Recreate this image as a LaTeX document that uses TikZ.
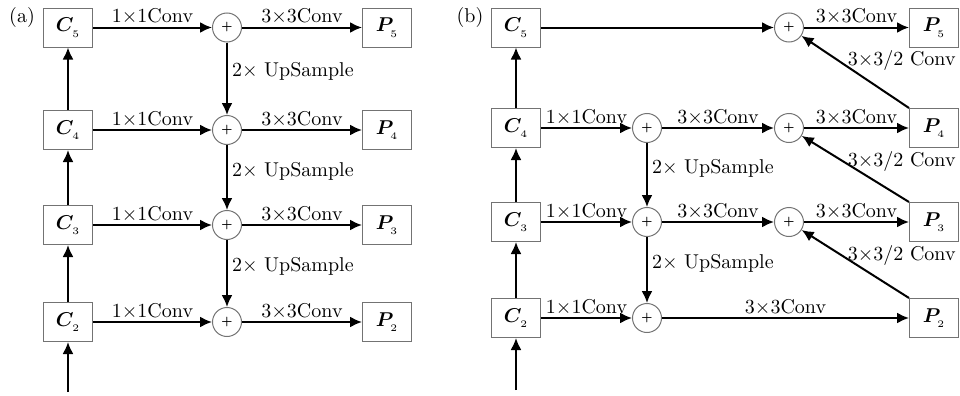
\documentclass[tikz,border=0pt]{standalone}
\usepackage{bm}
\usetikzlibrary{arrows.meta}
\newcommand{\fm}[2]{$\bm{#1}_{\raisebox{-1.2pt}{$\scriptscriptstyle #2$}}$}
\begin{document}
\begin{tikzpicture}[x=0.5pt,y=-0.5pt,
  box/.style={draw=black!55,line width=0.5pt,minimum width=24.5pt,minimum height=19.5pt,inner sep=0pt},
  sumnode/.style={circle,draw=black!55,line width=0.5pt,minimum size=14.5pt,inner sep=0pt,font=\tiny\bfseries},
  arr/.style={line width=1pt,-{Latex[length=6pt,width=5.5pt]}},
  lab/.style={above,inner sep=1pt},
  uplab/.style={right,pos=0.4,inner sep=2pt},
  slab/.style={anchor=north east,inner sep=1.5pt}]
\useasboundingbox (0,0) rectangle (960,396);
% ---------- (a) ----------
\node (la) at (22,17) {(a)};
\node[box] (aC5) at (68,27.5) {\fm{C}{5}};
\node[box] (aC4) at (68,130) {\fm{C}{4}};
\node[box] (aC3) at (68,225) {\fm{C}{3}};
\node[box] (aC2) at (68,322) {\fm{C}{2}};
\node[sumnode] (aS5) at (227,27.5) {+};
\node[sumnode] (aS4) at (227,130) {+};
\node[sumnode] (aS3) at (227,225) {+};
\node[sumnode] (aS2) at (227,322) {+};
\node[box] (aP5) at (387,27.5) {\fm{P}{5}};
\node[box] (aP4) at (387,130) {\fm{P}{4}};
\node[box] (aP3) at (387,225) {\fm{P}{3}};
\node[box] (aP2) at (387,322) {\fm{P}{2}};
\coordinate (ain) at (68,392);
\foreach \i in {5,4,3,2}{
  \draw[arr] (aC\i) -- node[lab]{1$\times$1Conv} (aS\i);
  \draw[arr] (aS\i) -- node[lab]{3$\times$3Conv} (aP\i);
}
\draw[arr] (aS5) -- node[uplab]{2$\times$ UpSample} (aS4);
\draw[arr] (aS4) -- node[uplab]{2$\times$ UpSample} (aS3);
\draw[arr] (aS3) -- node[uplab]{2$\times$ UpSample} (aS2);
\draw[arr] (ain) -- (aC2);
\draw[arr] (aC2) -- (aC3);
\draw[arr] (aC3) -- (aC4);
\draw[arr] (aC4) -- (aC5);
% ---------- (b) ----------
\node (lb) at (470,17) {(b)};
\node[box] (bC5) at (516,27.5) {\fm{C}{5}};
\node[box] (bC4) at (516,128) {\fm{C}{4}};
\node[box] (bC3) at (516,222) {\fm{C}{3}};
\node[box] (bC2) at (516,318) {\fm{C}{2}};
\node[sumnode] (bS4) at (647,128) {+};
\node[sumnode] (bS3) at (647,222) {+};
\node[sumnode] (bS2) at (647,318) {+};
\node[sumnode] (bT5) at (789,27.5) {+};
\node[sumnode] (bT4) at (789,128) {+};
\node[sumnode] (bT3) at (789,222) {+};
\node[box] (bP5) at (934,27.5) {\fm{P}{5}};
\node[box] (bP4) at (934,128) {\fm{P}{4}};
\node[box] (bP3) at (934,222) {\fm{P}{3}};
\node[box] (bP2) at (934,318) {\fm{P}{2}};
\coordinate (bin) at (516,390);
\draw[arr] (bC5) -- (bT5);
\draw[arr] (bT5) -- node[lab]{3$\times$3Conv} (bP5);
\foreach \i in {4,3}{
  \draw[arr] (bC\i) -- node[lab]{1$\times$1Conv} (bS\i);
  \draw[arr] (bS\i) -- node[lab]{3$\times$3Conv} (bT\i);
  \draw[arr] (bT\i) -- node[lab]{3$\times$3Conv} (bP\i);
}
\draw[arr] (bC2) -- node[lab]{1$\times$1Conv} (bS2);
\draw[arr] (bS2) -- node[lab]{3$\times$3Conv} (bP2);
\draw[arr] (bS4) -- node[uplab]{2$\times$ UpSample} (bS3);
\draw[arr] (bS3) -- node[uplab]{2$\times$ UpSample} (bS2);
\draw[arr] (bP4.north west) -- (bT5);
\draw[arr] (bP3.north west) -- (bT4);
\draw[arr] (bP2.north west) -- (bT3);
\node[slab] (sl5) at (bP5.south east) {3$\times$3/2 Conv};
\node[slab] (sl4) at (bP4.south east) {3$\times$3/2 Conv};
\node[slab] (sl3) at (bP3.south east) {3$\times$3/2 Conv};
\draw[arr] (bin) -- (bC2);
\draw[arr] (bC2) -- (bC3);
\draw[arr] (bC3) -- (bC4);
\draw[arr] (bC4) -- (bC5);
\end{tikzpicture}
\end{document}
